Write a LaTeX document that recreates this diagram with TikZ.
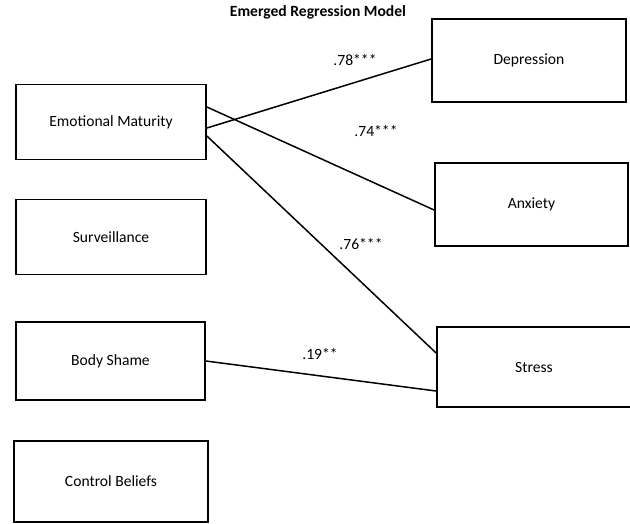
\documentclass[tikz,border=0pt]{standalone}
\usepackage{fontspec}
\setmainfont{Carlito}
\usetikzlibrary{calc}
\begin{document}
\begin{tikzpicture}[x=1pt,y=-1pt,
  var/.style={draw,line width=1.8pt,rectangle,inner sep=0pt,font=\fontsize{15.6}{18}\selectfont},
  path/.style={line width=1.5pt},
  coef/.style={font=\fontsize{15.6}{18}\selectfont}]
\useasboundingbox (0,0) rectangle (630,523);
\node[font=\bfseries\fontsize{15.6}{18}\selectfont] (title) at (318,12) {Emerged Regression Model};
\node[var,minimum width=190pt,minimum height=75pt] (em) at (111,122) {Emotional Maturity};
\node[var,minimum width=190pt,minimum height=75pt] (sv) at (111,237) {Surveillance};
\node[var,minimum width=189pt,minimum height=78pt] (bs) at (110.5,361) {Body Shame};
\node[var,minimum width=194pt,minimum height=81pt] (cb) at (111,481.5) {Control Beliefs};
\node[var,minimum width=194pt,minimum height=83pt] (dep) at (529,60.5) {Depression};
\node[var,minimum width=193pt,minimum height=83pt] (anx) at (531.5,204.5) {Anxiety};
\node[var,minimum width=194pt,minimum height=80pt] (str) at (534,367) {Stress};
\draw[path] ([yshift=-6pt]em.east) -- ([yshift=1.5pt]dep.west);
\draw[path] ([yshift=15pt]em.east) -- ([yshift=-5.5pt]anx.west);
\draw[path] ([yshift=-14pt]em.east) -- ([yshift=14pt]str.west);
\draw[path] (bs.east) -- ([yshift=-24pt]str.west);
\node[coef] (c1) at (355,60) {.78***};
\node[coef] (c2) at (376,131) {.74***};
\node[coef] (c3) at (361,244) {.76***};
\node[coef] (c4) at (320,354) {.19**};
\end{tikzpicture}
\end{document}
